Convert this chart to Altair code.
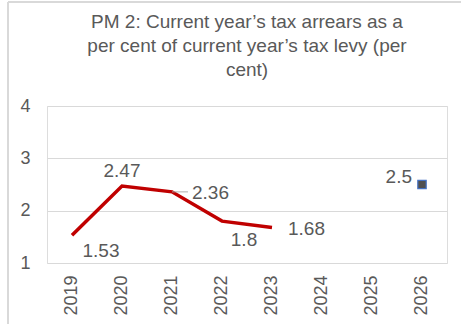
import altair as alt
import pandas as pd

years = ["2019", "2020", "2021", "2022", "2023", "2024", "2025", "2026"]
actual_years = ["2019", "2020", "2021", "2022", "2023"]
actual_values = [1.53, 2.47, 2.36, 1.8, 1.68]
target_years = ["2026"]
target_values = [2.5]
title_lines = ["PM 2: Current year\u2019s tax arrears as a",
               "per cent of current year\u2019s tax levy (per",
               "cent)"]

actual = pd.DataFrame({"year": actual_years, "value": actual_values})
target = pd.DataFrame({"year": target_years, "value": target_values})
titles = pd.DataFrame({"line": title_lines, "row": [0, 1, 2]})

FONT = "Liberation Sans"
GREY = "#595959"
XS = alt.Scale(domain=years, paddingInner=0, paddingOuter=0)

x = alt.X("year:N", scale=XS,
          axis=alt.Axis(title=None, labelAngle=-90, labelAlign="right", labelBaseline="middle",
                        labelPadding=12, ticks=False, domain=False, labelFontSize=18,
                        labelColor=GREY, labelFont=FONT))
y = alt.Y("value:Q", scale=alt.Scale(domain=[1, 4], nice=False, zero=False),
          axis=alt.Axis(title=None, values=[1, 2, 3, 4], ticks=False, domain=False,
                        labelPadding=17, labelFontSize=18, labelColor=GREY, labelFont=FONT,
                        gridColor="#d9d9d9", gridWidth=1))

line = alt.Chart(actual).mark_line(color="#C00000", strokeWidth=3.5).encode(x=x, y=y)

def label(df, sel, **kw):
    return alt.Chart(df).transform_filter(
        alt.FieldOneOfPredicate(field="year", oneOf=sel)
    ).mark_text(font=FONT, fontSize=19, color=GREY, **kw).encode(
        x=alt.X("year:N", scale=XS),
        y=alt.Y("value:Q"),
        text=alt.Text("value:Q"))

lab_2019 = label(actual, ["2019"], dx=29, dy=16)
lab_2020 = label(actual, ["2020"], dy=-15)
lab_2021 = label(actual, ["2021"], dx=20, dy=1, align="left")
lab_2022 = label(actual, ["2022"], dx=22, dy=19)
lab_2023 = label(actual, ["2023"], dx=16, dy=2, align="left")
lab_target = label(target, ["2026"], dx=-10, dy=-8, align="right")

leader = alt.Chart(actual).transform_filter(
    alt.FieldOneOfPredicate(field="year", oneOf=["2021"])
).mark_tick(color="#a6a6a6", thickness=1.3, size=16, orient="horizontal", xOffset=8).encode(
    x=alt.X("year:N", scale=XS),
    y=alt.Y("value:Q"),
)

point = alt.Chart(target).mark_point(shape="square", filled=True, size=70, color="#505050",
                                     stroke="#4472C4", strokeWidth=1.2, opacity=1).encode(
    x=alt.X("year:N", scale=XS),
    y=alt.Y("value:Q"))

title_rows = []
for r, ypix in zip([0, 1, 2], [-84, -60, -36]):
    title_rows.append(
        alt.Chart(titles).transform_filter(alt.datum.row == r).mark_text(
            font=FONT, fontSize=19, color=GREY, baseline="middle", align="center"
        ).encode(x=alt.value(200), y=alt.value(ypix), text="line:N"))

border_top = alt.Chart(actual).mark_rule(color="#d9d9d9", strokeWidth=2).encode(
    x=alt.value(-39), x2=alt.value(420), y=alt.value(-104))
border_left = alt.Chart(actual).mark_rule(color="#d9d9d9", strokeWidth=2).encode(
    x=alt.value(-39), y=alt.value(-104), y2=alt.value(220))

chart = alt.layer(border_top, border_left, line, leader, point,
                  lab_2019, lab_2020, lab_2021, lab_2022, lab_2023, lab_target,
                  *title_rows).properties(
    width=400, height=157,
    autosize=alt.AutoSizeParams(type="none"),
    padding={"left": 47, "top": 106, "right": 14, "bottom": 61},
).configure_view(stroke=None).configure(background="white")

chart.save("out.html", embed_options={"renderer": "svg", "actions": False})
